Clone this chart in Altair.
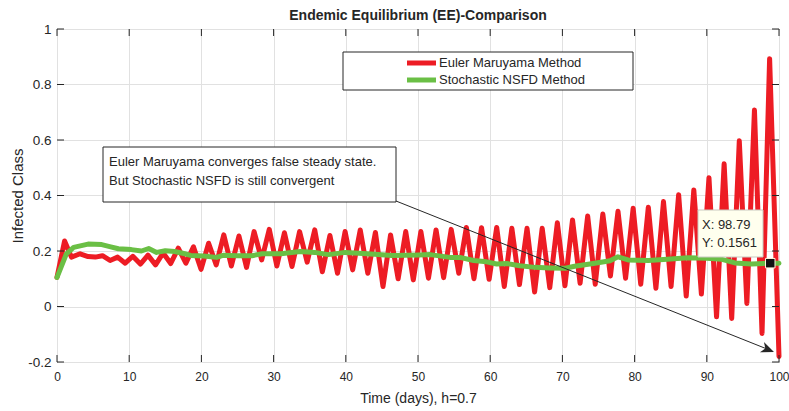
import altair as alt
import pandas as pd

# ---------------- data ----------------
red_t = [0, 1.05, 2.0, 3.2, 4.3, 5.3, 6.3, 7.35, 8.4, 9.45,
         10.5, 11.55, 12.6, 13.65, 14.7, 15.75, 16.8, 17.85, 18.9, 19.95,
         21.0, 22.05, 23.1, 24.15, 25.2, 26.25, 27.3, 28.35, 29.4, 30.45,
         31.5, 32.55, 33.6, 34.65, 35.7, 36.75, 37.8, 38.85, 39.9, 40.95,
         42.0, 43.05, 44.1, 45.15, 46.2, 47.25, 48.3, 49.35, 50.4, 51.45,
         52.5, 53.55, 54.6, 55.65, 56.7, 57.75, 58.8, 59.85, 60.9, 61.95,
         63.0, 64.05, 65.1, 66.15, 67.2, 68.25, 69.3, 70.35, 71.4, 72.45,
         73.5, 74.55, 75.6, 76.65, 77.7, 78.75, 79.8, 80.85, 81.9, 82.95,
         84.0, 85.05, 86.1, 87.15, 88.2, 89.25, 90.3, 91.35, 92.4, 93.45,
         94.5, 95.55, 96.6, 97.65, 98.7, 100.0]
red_v = [0.105, 0.236, 0.178, 0.19, 0.18, 0.178, 0.183, 0.166, 0.178, 0.156,
         0.181, 0.153, 0.185, 0.15, 0.193, 0.155, 0.21, 0.156, 0.215, 0.134,
         0.228, 0.15, 0.258, 0.146, 0.254, 0.141, 0.27, 0.168, 0.278, 0.146,
         0.266, 0.144, 0.27, 0.16, 0.276, 0.125, 0.256, 0.12, 0.27, 0.132,
         0.276, 0.12, 0.267, 0.072, 0.258, 0.1, 0.27, 0.096, 0.27, 0.102,
         0.276, 0.104, 0.278, 0.12, 0.285, 0.1, 0.284, 0.098, 0.285, 0.072,
         0.282, 0.079, 0.282, 0.052, 0.282, 0.068, 0.302, 0.075, 0.312, 0.084,
         0.326, 0.08, 0.333, 0.11, 0.343, 0.102, 0.354, 0.08, 0.358, 0.066,
         0.378, 0.072, 0.403, 0.038, 0.42, 0.045, 0.464, -0.037, 0.514, -0.043,
         0.597, 0.011, 0.708, -0.097, 0.893, -0.18]

green_t = [0, 1.3, 2.3, 4.3, 6.2, 7.3, 8.5, 10.3, 11.7, 12.7,
           13.8, 15.0, 16.3, 17.7, 18.5, 20.3, 22.1, 23.1, 24.9, 27.0,
           28.4, 31.0, 33.7, 35.7, 37.6, 39.9, 41.8, 44.0, 46.4, 48.2,
           50.0, 51.7, 54.4, 55.8, 57.7, 59.5, 60.9, 62.3, 64.1, 66.2,
           68.2, 70.4, 71.7, 74.5, 76.6, 77.7, 79.1, 81.9, 84.5, 87.4,
           90.0, 92.1, 93.9, 96.2, 98.79, 100]
green_v = [0.105, 0.19, 0.213, 0.225, 0.223, 0.216, 0.208, 0.205, 0.2, 0.209,
           0.195, 0.201, 0.198, 0.19, 0.184, 0.182, 0.177, 0.185, 0.183, 0.183,
           0.19, 0.19, 0.198, 0.195, 0.187, 0.195, 0.192, 0.188, 0.184, 0.185,
           0.186, 0.187, 0.177, 0.177, 0.166, 0.161, 0.153, 0.155, 0.147, 0.141,
           0.139, 0.138, 0.145, 0.156, 0.165, 0.179, 0.168, 0.166, 0.17, 0.176,
           0.174, 0.17, 0.157, 0.153, 0.1561, 0.156]

x_ticks = [0, 10, 20, 30, 40, 50, 60, 70, 80, 90, 100]
y_ticks = [-0.2, 0, 0.2, 0.4, 0.6, 0.8, 1.0]

title_text = "Endemic Equilibrium (EE)-Comparison"
x_title = "Time (days), h=0.7"
y_title = "Infected Class"
legend_labels = ["Euler Maruyama Method", "Stochastic NSFD Method"]
note_lines = ["Euler Maruyama converges false steady state.",
              "But Stochastic NSFD is still convergent"]
tip_x = 98.79
tip_y = 0.1561

# ---------------- styling ----------------
W, H = 722, 333
FONT = "Liberation Sans"
AX = "#262626"
RED = "#ed1c24"
GREEN = "#6abf45"
FS = 13

xs = alt.Scale(domain=[0, 100], nice=False, zero=False)
ys = alt.Scale(domain=[-0.2, 1.0], nice=False, zero=False)

x_axis = alt.Axis(values=x_ticks, title=x_title, grid=True, gridColor="#e1e1e1",
                  domain=False, ticks=False, labelFontSize=12, labelFont=FONT,
                  labelColor=AX, labelPadding=9, labelFlush=False,
                  titleFont=FONT, titleFontSize=14, titleFontWeight="normal",
                  titleColor=AX, titleY=36, titleBaseline="middle")
y_axis = alt.Axis(values=y_ticks, title=y_title, grid=True, gridColor="#e1e1e1",
                  domain=False, ticks=False, labelFontSize=13.5, labelFont=FONT,
                  labelColor=AX, labelPadding=6, labelFlush=False,
                  labelExpr="replace(format(datum.value, '.1~f'), '\u2212', '-')",
                  titleFont=FONT, titleFontSize=15, titleFontWeight="normal",
                  titleColor=AX, titleX=-40, titleBaseline="middle")


def X(f="t"):
    return alt.X(f + ":Q", scale=xs, axis=x_axis)


def Y(f="v"):
    return alt.Y(f + ":Q", scale=ys, axis=y_axis)


red_df = pd.DataFrame({"t": red_t, "v": red_v})
green_df = pd.DataFrame({"t": green_t, "v": green_v})
one = pd.DataFrame({"k": [0]})

red_line = alt.Chart(red_df).mark_line(color=RED, strokeWidth=5, strokeJoin="round",
                                       strokeCap="round").encode(x=X(), y=Y())
green_line = alt.Chart(green_df).mark_line(color=GREEN, strokeWidth=5, strokeJoin="round",
                                           strokeCap="round").encode(x=X(), y=Y())

# inward ticks on all four sides
xt = pd.DataFrame({"t": x_ticks})
yt = pd.DataFrame({"v": y_ticks})
tick_top = alt.Chart(xt).mark_rule(color=AX, strokeWidth=1).encode(
    x=X(), y=alt.value(0), y2=alt.value(7))
tick_bot = alt.Chart(xt).mark_rule(color=AX, strokeWidth=1).encode(
    x=X(), y=alt.value(H - 7), y2=alt.value(H))
tick_left = alt.Chart(yt).mark_rule(color=AX, strokeWidth=1).encode(
    y=Y(), x=alt.value(0), x2=alt.value(7))
tick_right = alt.Chart(yt).mark_rule(color=AX, strokeWidth=1).encode(
    y=Y(), x=alt.value(W - 7), x2=alt.value(W))

title = alt.Chart(one).mark_text(font=FONT, fontSize=14, fontWeight="bold", color=AX,
                                 align="center", baseline="middle").encode(
    x=alt.value(W / 2), y=alt.value(-13), text=alt.value(title_text))

# legend
leg_box = alt.Chart(one).mark_rect(fill="white", stroke=AX, strokeWidth=1).encode(
    x=alt.value(286), x2=alt.value(576), y=alt.value(23), y2=alt.value(61))
leg_red = alt.Chart(one).mark_rule(color=RED, strokeWidth=5).encode(
    x=alt.value(350), x2=alt.value(379), y=alt.value(34))
leg_green = alt.Chart(one).mark_rule(color=GREEN, strokeWidth=5).encode(
    x=alt.value(350), x2=alt.value(379), y=alt.value(51))
leg_t1 = alt.Chart(one).mark_text(font=FONT, fontSize=FS, color=AX, align="left",
                                  baseline="middle").encode(
    x=alt.value(382), y=alt.value(34), text=alt.value(legend_labels[0]))
leg_t2 = alt.Chart(one).mark_text(font=FONT, fontSize=FS, color=AX, align="left",
                                  baseline="middle").encode(
    x=alt.value(382), y=alt.value(51), text=alt.value(legend_labels[1]))

# text annotation box with arrow
note_box = alt.Chart(one).mark_rect(fill="white", stroke=AX, strokeWidth=1).encode(
    x=alt.value(46), x2=alt.value(339), y=alt.value(118), y2=alt.value(173))
note_t1 = alt.Chart(one).mark_text(font=FONT, fontSize=FS, color=AX, align="left",
                                   baseline="middle").encode(
    x=alt.value(52), y=alt.value(133), text=alt.value(note_lines[0]))
note_t2 = alt.Chart(one).mark_text(font=FONT, fontSize=FS, color=AX, align="left",
                                   baseline="middle").encode(
    x=alt.value(52), y=alt.value(152), text=alt.value(note_lines[1]))
arrow_line = alt.Chart(one).mark_rule(color=AX, strokeWidth=1).encode(
    x=alt.value(339), y=alt.value(172), x2=alt.value(710), y2=alt.value(320))
arrow_head = alt.Chart(one).mark_point(
    shape="M0,0 L-1,-0.42 L-0.72,0 L-1,0.42 Z", filled=True, fill=AX, opacity=1,
    strokeWidth=0, size=676, angle=21.8).encode(x=alt.value(717), y=alt.value(323))

# data tip
tip_box = alt.Chart(one).mark_rect(fill="#ffffee", stroke="#c9c9c0", strokeWidth=1).encode(
    x=alt.value(641), x2=alt.value(706), y=alt.value(181), y2=alt.value(228))
tip_t1 = alt.Chart(one).mark_text(font=FONT, fontSize=FS, color=AX, align="left",
                                  baseline="middle").encode(
    x=alt.value(645), y=alt.value(196), text=alt.value(f"X: {tip_x}"))
tip_t2 = alt.Chart(one).mark_text(font=FONT, fontSize=FS, color=AX, align="left",
                                  baseline="middle").encode(
    x=alt.value(645), y=alt.value(214), text=alt.value(f"Y: {tip_y}"))
tip_df = pd.DataFrame({"t": [tip_x], "v": [tip_y]})
tip_marker = alt.Chart(tip_df).mark_square(size=90, filled=True, fill="#111111",
                                           stroke="#fff8dc", strokeWidth=1, opacity=1).encode(
    x=X(), y=Y())

chart = alt.layer(
    red_line, green_line,
    tick_top, tick_bot, tick_left, tick_right,
    title,
    leg_box, leg_red, leg_green, leg_t1, leg_t2,
    arrow_line, arrow_head, note_box, note_t1, note_t2,
    tip_box, tip_t1, tip_t2, tip_marker,
).properties(
    width=W, height=H,
    autosize=alt.AutoSizeParams(type="none"),
    padding={"left": 57, "top": 29, "right": 10, "bottom": 49},
    background="white",
).configure_view(stroke=AX, strokeWidth=1)

chart.save("out.html", embed_options={"renderer": "svg", "actions": False})
